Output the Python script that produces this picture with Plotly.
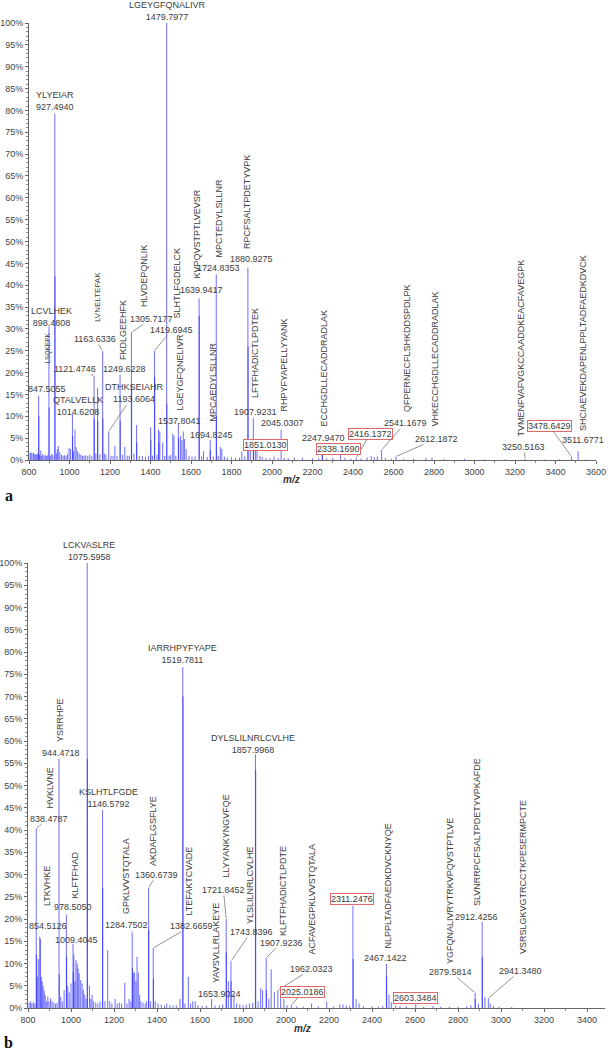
import plotly.graph_objects as go

W, H = 608, 1050

# ---------------- DATA: panel a ----------------
a_mz = [805, 810, 815, 822, 828, 833, 838, 843, 847.5055, 852, 858, 862, 868, 874, 880, 886, 892, 898.4808,
        905, 912, 918, 927.4940, 935, 940, 945, 952, 960, 968, 975, 983, 990, 998, 1005, 1014.6208, 1020,
        1027, 1033, 1040, 1048, 1056, 1064, 1072, 1080, 1090, 1100, 1110, 1121.4746, 1130, 1138.6, 1150,
        1163.6336, 1172, 1180, 1193.6064, 1205, 1215, 1224, 1235, 1249.6228, 1262, 1273, 1285, 1295,
        1305.7177, 1318, 1331, 1345, 1360, 1375, 1390, 1400.7, 1410, 1419.6945, 1432, 1440, 1446, 1460,
        1470, 1479.7977, 1492, 1500, 1510, 1516, 1525, 1537.8041, 1548, 1555, 1562, 1568, 1576, 1590, 1605,
        1620, 1639.9417, 1652, 1662, 1680, 1694.8245, 1710, 1724.8353, 1735, 1745, 1752, 1765, 1780, 1800,
        1820, 1840, 1851.0130, 1865, 1880.9275, 1893, 1907.9231, 1918, 1926, 1940, 1952, 1970, 1990, 2010,
        2030, 2045.0307, 2060, 2080, 2110, 2150, 2200, 2230, 2247.9470, 2270, 2300, 2338.1690, 2360, 2390,
        2416.1372, 2440, 2470, 2490, 2505, 2520, 2541.1679, 2560, 2590, 2612.1872, 2650, 2700, 2760, 2790,
        2850, 2950, 3050, 3150, 3250.5163, 3350, 3420, 3478.6429, 3511.6771, 3550]
a_int = [1.6, 1.8, 1.5, 1.7, 1.4, 1.3, 1.2, 1.5, 14.7, 1.2, 2.2, 1.0, 1.3, 1.0, 1.2, 0.9, 1.1, 30.5,
         1.0, 1.4, 1.1, 79.3, 1.5, 2.5, 3.2, 1.8, 1.2, 1.0, 1.1, 1.0, 1.4, 2.8, 2.5, 10.5, 2.0,
         7.0, 3.0, 2.0, 1.5, 1.2, 1.0, 1.0, 1.1, 0.9, 1.2, 1.0, 19.3, 1.5, 16.5, 1.3,
         25.0, 1.5, 1.2, 6.5, 1.0, 0.9, 3.2, 1.0, 19.5, 1.2, 3.0, 1.0, 1.0,
         29.2, 1.5, 8.0, 1.0, 0.9, 0.8, 1.0, 7.5, 1.0, 25.0, 1.2, 7.0, 6.5, 4.0,
         1.0, 100.0, 1.0, 1.2, 6.0, 5.5, 1.0, 8.5, 5.5, 4.5, 6.5, 4.8, 2.5, 1.0, 0.8,
         0.8, 37.0, 0.8, 2.0, 0.7, 4.6, 0.8, 42.5, 1.0, 3.0, 2.5, 0.8, 0.6, 0.6,
         0.5, 0.6, 2.0, 0.8, 44.0, 3.0, 9.6, 4.0, 3.0, 1.0, 0.7, 0.5, 0.4, 0.8,
         0.5, 6.9, 0.5, 0.4, 0.6, 0.5, 0.4, 0.4, 2.9, 0.4, 0.5, 1.3, 0.5, 0.3,
         0.5, 0.4, 0.6, 0.9, 0.7, 0.8, 2.3, 0.5, 0.3, 0.8, 0.3, 0.3, 0.5, 0.6,
         0.3, 0.3, 0.2, 0.2, 0.3, 0.2, 0.2, 0.8, 2.0, 0.2]
a_iso_mz = [848.51, 899.48, 928.50, 1015.62, 1122.48, 1139.6, 1164.64, 1250.63, 1306.72, 1332.0, 1401.7,
            1420.70, 1441.0, 1480.80, 1538.8, 1640.94, 1695.83, 1725.84, 1881.93, 1908.92, 2248.95]
a_iso_int = [10.0, 12.0, 42.0, 5.5, 9.5, 9.0, 9.5, 9.0, 17.0, 4.0, 4.5,
             19.0, 4.0, 12.7, 5.0, 33.0, 2.3, 10.0, 26.0, 4.0, 2.5]

# labels, panel a
a_two_seq = ["LGEYGFQNALIVR", "YLYEIAR", "LCVLHEK", "QTALVELLK", "DTHKSEIAHR"]
a_two_mz = ["1479.7977", "927.4940", "898.4808", "1014.6208", "1193.6064"]
a_num = ["847.5055", "1121.4746", "1163.6336", "1249.6228", "1305.7177", "1419.6945", "1537.8041",
         "1639.9417", "1724.8353", "1880.9275", "1694.8245", "1907.9231", "1851.0130", "2045.0307",
         "2247.9470", "2416.1372", "2338.1690", "2541.1679", "2612.1872", "3250.5163", "3478.6429",
         "3511.6771"]
a_boxed = ["1851.0130", "2416.1372", "2338.1690", "3478.6429"]
a_vert = ["LSQKEPK", "LVNELTEFAK", "FKDLGEEHFK", "HLVDEPQNLIK", "SLHTLFGDELCK", "LGEYGFQNELIVR",
          "KVPQVSTPTLVEVSR", "MPCTEDYLSLLNR", "RPCFSALTPDETYVPK", "MPCAEDYLSLLNR",
          "LFTFHADICTLPDTEK", "RHPYFYAPELLYYANK", "ECCHGDLLECADDRADLAK", "QFPERNECFLSHKDDSPDLPK",
          "VHKECCHGDLLECADDRADLAK", "TVMENFVAFVGKCCAADDKEACFAVEGPK",
          "SHCIAEVEKDAPENLPPLTADFAEDKDVCK"]

# ---------------- DATA: panel b ----------------
b_mz = [805, 812, 818, 825, 832, 838.4787, 843, 848, 854.5126, 858, 862, 866, 870, 875, 880, 886, 892, 898,
        905, 912, 920, 928, 935, 944.4718, 952, 960, 968, 978.5050, 985, 992, 1000, 1009.4045, 1013, 1018,
        1023, 1029, 1033, 1038, 1045, 1052, 1058, 1064, 1070, 1075.5958, 1086, 1092, 1098, 1105, 1115,
        1125, 1135, 1146.5792, 1158, 1170.5, 1180, 1190, 1205, 1215, 1225, 1235, 1250, 1260, 1270, 1278,
        1284.7502, 1290, 1296, 1302, 1307, 1313, 1319, 1325, 1335, 1345, 1352, 1360.6739, 1370, 1382.6659,
        1392, 1405, 1420, 1435, 1445, 1460, 1475, 1490, 1507, 1519.7811, 1530, 1546, 1556, 1566, 1578,
        1590, 1610, 1630, 1653.9024, 1670, 1690, 1705, 1721.8452, 1732, 1743.8396, 1758, 1770, 1785, 1800,
        1815, 1830, 1845, 1857.9968, 1870, 1882, 1891, 1907.9236, 1920, 1931, 1946, 1962.0323, 1975, 1990,
        2005, 2025.0186, 2050, 2080, 2119, 2150, 2189, 2220, 2250, 2265, 2280, 2295, 2311.2476, 2326, 2340,
        2360, 2400, 2430, 2450, 2467.1422, 2479, 2490, 2510, 2530, 2560, 2603.3484, 2640, 2684, 2720, 2760,
        2800, 2840, 2860, 2879.5814, 2895, 2912.4256, 2925, 2941.3480, 2950, 2965, 2990, 3050]
b_int = [1.2, 1.5, 1.0, 1.3, 1.0, 40.4, 7.0, 11.0, 16.0, 15.5, 7.0, 6.0, 5.0, 4.0, 3.0, 1.5, 2.5, 1.5,
         2.2, 1.5, 1.2, 1.0, 1.2, 56.0, 2.5, 1.5, 4.0, 21.0, 5.0, 3.5, 5.5, 14.4, 12.0, 6.0,
         10.8, 10.0, 8.9, 7.8, 6.3, 5.5, 4.0, 3.0, 2.0, 100.0, 5.0, 2.0, 3.0, 1.5, 1.2,
         1.0, 1.5, 44.5, 1.5, 13.0, 1.5, 1.0, 2.0, 1.0, 1.2, 1.0, 5.7, 1.0, 2.0, 1.5,
         17.0, 8.0, 8.0, 6.0, 11.5, 8.0, 3.0, 1.5, 1.2, 1.0, 1.5, 27.0, 1.5, 13.5,
         1.5, 1.0, 0.8, 0.6, 1.0, 0.6, 0.5, 0.6, 2.0, 76.6, 1.0, 7.0, 1.0, 1.5, 1.5,
         0.6, 0.5, 0.5, 2.0, 0.5, 0.6, 0.8, 20.0, 6.0, 10.5, 3.0, 1.0, 0.8, 0.6,
         0.8, 1.0, 1.2, 57.0, 1.5, 4.5, 4.0, 11.3, 2.0, 8.7, 3.6, 4.0, 3.0, 2.0,
         0.6, 0.6, 0.4, 0.3, 1.0, 0.4, 1.4, 0.4, 0.8, 0.8, 0.6, 0.5, 23.0, 2.0, 1.0,
         0.4, 0.4, 0.3, 0.5, 9.9, 3.0, 1.3, 0.6, 0.5, 0.4, 1.0, 0.3, 0.5, 0.3, 0.3,
         0.3, 0.4, 0.6, 3.4, 1.0, 19.3, 2.5, 2.2, 1.0, 0.5, 0.3, 0.2]
b_iso_mz = [839.48, 945.47, 979.5, 1010.4, 1076.60, 1147.58, 1285.75, 1361.67, 1383.67, 1520.78,
            1722.85, 1744.84, 1858.99, 1908.92, 2312.25, 2468.14, 2880.58, 2913.43]
b_iso_int = [12.0, 7.5, 11.5, 8.0, 56.0, 27.0, 9.0, 17.5, 6.5, 70.0,
             12.5, 6.0, 53.5, 4.0, 11.0, 7.0, 2.0, 11.5]

b_two_seq = ["LCKVASLRE", "IARRHPYFYAPE", "DYLSLILNRLCVLHE", "KSLHTLFGDE"]
b_two_mz = ["1075.5958", "1519.7811", "1857.9968", "1146.5792"]
b_num = ["944.4718", "838.4787", "854.5126", "978.5050", "1009.4045", "1284.7502", "1360.6739",
         "1382.6659", "1653.9024", "1721.8452", "1743.8396", "1907.9236", "1962.0323", "2025.0186",
         "2311.2476", "2467.1422", "2603.3484", "2879.5814", "2912.4256", "2941.3480"]
b_boxed = ["2025.0186", "2311.2476", "2603.3484"]
b_vert = ["YSRRHPE", "HVKLVNE", "LTKVHKE", "KLFTFHAD", "GPKLVVSTQTALA", "AKDAFLGSFLYE",
          "LTEFAKTCVADE", "YAVSVLLRLAKEYE", "LLYYANKYNGVFQE", "YLSLILNRLCVLHE",
          "KLFTFHADICTLPDTE", "ACFAVEGPKLVVSTQTALA", "NLPPLTADFAEDKDVCKNYQE",
          "YGFQNALIVRYTRKVPQVSTPTLVE", "SLVNRRPCFSALTPDETYVPKAFDE", "VSRSLGKVGTRCCTKPESERMPCTE"]

# ---------------- LAYOUT (pixel placement) ----------------
GA = dict(x0=29, x1=596, xmin=800, xmax=3600, y0=460, y1=23)
GB = dict(x0=28, x1=605, xmin=800, xmax=3483.7, y0=1008, y1=563)

a_two_pos = [(167, 11.5, 0), (55, 100.5, 0), (51, 317, 0), (78, 405.5, 0), (134, 393.5, 1)]
a_num_pos = [(46.5, 389.5, 0), (75, 369, 1), (95, 339, 1), (124, 369, 0), (151.5, 319, 1), (171.5, 330, 1),
             (179, 421, 0), (201, 290, 0), (218, 268, 0), (251, 259, 0), (211.5, 435, 0), (255, 412, 0),
             (265.5, 445, 0), (282.5, 423, 0), (323.5, 438, 0), (370, 434, 1), (338.5, 449, 0),
             (405, 423, 1), (436, 439, 1), (523.5, 447, 1), (549.5, 426, 1), (583, 440, 0)]
a_vert_pos = [(47, 365), (97, 323), (123, 361), (144, 308), (176, 320), (179, 412), (197, 280), (218, 259),
              (247, 250), (213, 423), (255, 399), (283, 413), (324, 428), (407, 413), (435, 428),
              (520, 438), (583, 432)]
a_vert_size = {"LSQKEPK": 6.5, "LVNELTEFAK": 8}

b_two_pos = [(89, 551, 0), (182, 653.5, 0), (253, 744, 0), (108, 797.5, 0)]
b_num_pos = [(61, 753, 0), (49, 819, 1), (48, 926, 0), (72.5, 907, 0), (76, 940, 0), (126, 925, 1),
             (156.5, 875, 1), (191, 926, 1), (219, 994, 1), (223.5, 890, 1), (251, 932, 1),
             (281.5, 943, 1), (311.5, 969, 1), (302.5, 992, 1), (351.5, 899, 0), (385.5, 958, 0),
             (415.5, 998, 0), (450.5, 972, 1), (476.5, 917, 0), (520, 971, 1)]
b_vert_pos = [(60, 743), (49, 810), (47, 907), (74, 900), (126, 915), (153, 867), (188, 917), (216, 984),
              (225, 879), (250, 925), (283, 937), (311, 956), (387, 950), (450, 965), (477, 907),
              (523, 955)]
b_vert_size = {}

FONT = "Arial, Liberation Sans, sans-serif"
TXT = "#3c3c3c"
LINE_COL = "rgba(25,25,255,0.58)"


def to_data(g, px, py):
    mz = g["xmin"] + (px - g["x0"]) * (g["xmax"] - g["xmin"]) / (g["x1"] - g["x0"])
    pct = (g["y0"] - py) * 100.0 / (g["y0"] - g["y1"])
    return mz, pct


def stems(mz, h):
    xs, ys = [], []
    for m, v in zip(mz, h):
        xs += [m, m, None]
        ys += [0, v, None]
    return xs, ys


def peak_at(mzs, hs, isos, isoh, label):
    t = float(label)
    allm = list(mzs) + list(isos)
    allh = list(hs) + list(isoh)
    i = min(range(len(allm)), key=lambda k: abs(allm[k] - t))
    return allm[i], allh[i]


fig = go.Figure()
for (mz, h, im, ih, xa, ya) in [(a_mz, a_int, a_iso_mz, a_iso_int, "x", "y"),
                                (b_mz, b_int, b_iso_mz, b_iso_int, "x2", "y2")]:
    for mm, hh in [(mz, h), (im, ih)]:
        xs, ys = stems(mm, hh)
        fig.add_trace(go.Scatter(x=xs, y=ys, mode="lines", xaxis=xa, yaxis=ya,
                                 line=dict(color=LINE_COL, width=1.1),
                                 hoverinfo="skip", showlegend=False))

annots = []


def font(size=9):
    return dict(family=FONT, size=size, color=TXT)


def add_labels(g, xr, yr, mzs, hs, isos, isoh, two_seq, two_mz, two_pos, nums, boxed, num_pos,
               vert, vert_pos, vert_size):
    def put(text, px, py, lead_label=None, extra=None):
        extra = extra or {}
        if lead_label is not None:
            tx, ty = to_data(g, px, py)
            pm, ph = peak_at(mzs, hs, isos, isoh, lead_label)
            annots.append(dict(xref=xr, yref=yr, x=pm, y=ph, ax=tx, ay=ty, axref=xr, ayref=yr,
                               text=text, showarrow=True, arrowhead=0, arrowwidth=0.7,
                               arrowcolor="#666", standoff=1, xanchor="center", yanchor="middle",
                               font=font(), borderpad=0, **extra))
        else:
            annots.append(dict(xref="paper", yref="paper", x=px / W, y=1 - py / H, text=text,
                               showarrow=False, xanchor="center", yanchor="middle",
                               font=font(), borderpad=0, **extra))

    for s, m, (px, py, lead) in zip(two_seq, two_mz, two_pos):
        put(s + "<br>" + m, px, py, m if lead else None)
    for m, (px, py, lead) in zip(nums, num_pos):
        extra = None
        if m in boxed:
            extra = dict(bordercolor="#e06a6a", borderwidth=1, bgcolor="rgba(255,255,255,0.9)")
        put(m, px, py, m if lead else None, extra)
    for s, (px, pb) in zip(vert, vert_pos):
        annots.append(dict(xref="paper", yref="paper", x=px / W, y=1 - pb / H, text=s,
                           showarrow=False, textangle=-90, xanchor="center", yanchor="bottom",
                           font=font(vert_size.get(s, 9)), borderpad=0))


add_labels(GA, "x", "y", a_mz, a_int, a_iso_mz, a_iso_int, a_two_seq, a_two_mz, a_two_pos,
           a_num, a_boxed, a_num_pos, a_vert, a_vert_pos, a_vert_size)
add_labels(GB, "x2", "y2", b_mz, b_int, b_iso_mz, b_iso_int, b_two_seq, b_two_mz, b_two_pos,
           b_num, b_boxed, b_num_pos, b_vert, b_vert_pos, b_vert_size)

# axis titles / panel letters
for px, py in [(291, 480), (302, 1028)]:
    annots.append(dict(xref="paper", yref="paper", x=px / W, y=1 - py / H, text="<b><i>m/z</i></b>",
                       showarrow=False, font=dict(family=FONT, size=10, color="#333"),
                       xanchor="center", yanchor="middle"))
for px, py, t in [(9, 495, "a"), (8, 1042, "b")]:
    annots.append(dict(xref="paper", yref="paper", x=px / W, y=1 - py / H, text="<b>" + t + "</b>",
                       showarrow=False, font=dict(family="Times New Roman, Liberation Serif, serif",
                                                  size=16, color="#111"),
                       xanchor="center", yanchor="middle"))


def xax(g, ticks_to):
    return dict(domain=[g["x0"] / W, g["x1"] / W], range=[g["xmin"], g["xmax"]], automargin=False,
                tickvals=list(range(800, ticks_to + 1, 200)), ticks="outside", ticklen=3,
                tickcolor="#666", showline=True, linecolor="#666", linewidth=1,
                showgrid=False, zeroline=False,
                minor=dict(dtick=100, ticks="outside", ticklen=2, tickcolor="#888"),
                tickfont=dict(family=FONT, size=9, color="#444"))


def yax(g, anchor):
    return dict(domain=[1 - g["y0"] / H, 1 - g["y1"] / H], range=[0, 100], dtick=5, automargin=False,
                ticksuffix="%", ticks="outside", ticklen=3, tickcolor="#666",
                showline=True, linecolor="#666", linewidth=1, showgrid=False, zeroline=False,
                minor=dict(dtick=1, ticks="outside", ticklen=2, tickcolor="#888"),
                tickfont=dict(family=FONT, size=9, color="#444"), anchor=anchor)


xa = xax(GA, 3600); xa["anchor"] = "y"
xb = xax(GB, 3400); xb["anchor"] = "y2"
fig.update_layout(
    width=W, height=H, margin=dict(l=0, r=0, t=0, b=0, autoexpand=False),
    paper_bgcolor="white", plot_bgcolor="white", hovermode=False,
    xaxis=xa, yaxis=yax(GA, "x"), xaxis2=xb, yaxis2=yax(GB, "x2"),
    annotations=annots,
)
fig.write_html("out.html", config={"displayModeBar": False},
               post_script="document.body.style.margin='0';document.body.style.overflow='hidden';")
